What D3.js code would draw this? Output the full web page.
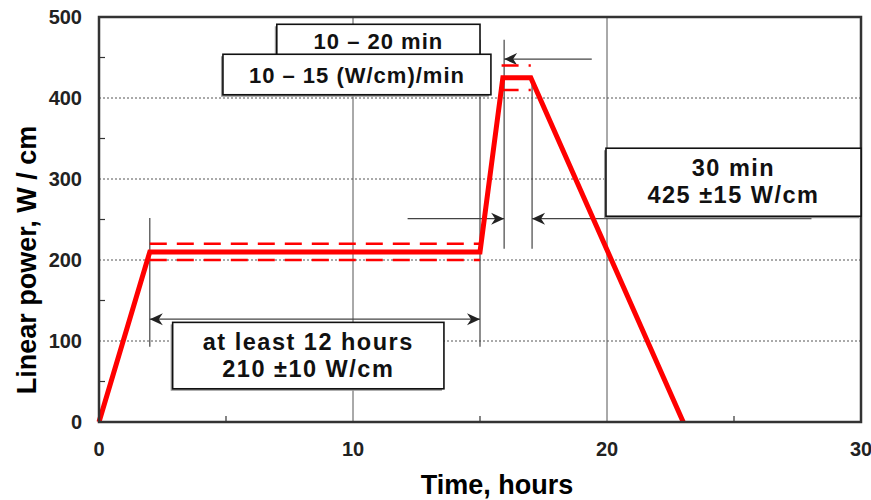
<!DOCTYPE html>
<html><head><meta charset="utf-8">
<script src="https://cdn.jsdelivr.net/npm/d3@7"></script>
<style>
html,body{margin:0;padding:0;background:#fff;}
svg{display:block;font-family:"Liberation Sans",Arial,sans-serif;font-weight:bold;}
</style></head>
<body>
<script>
// ---- data ----
const timeHours = [0, 2, 15, 15.9, 17, 23];
const powerWcm  = [0, 210, 210, 425, 425, 0];
const band1Time = [2, 15];
const band1Power = [200, 220];          // 210 ±10
const band2Time = [15.85, 17];
const band2Power = [410, 440];          // 425 ±15
const xTicks = [0, 10, 20, 30];
const xMinorTicks = [5, 15, 25];
const yTicks = [0, 100, 200, 300, 400, 500];
const yMinorTicks = [50, 150, 250, 350, 450];
const xGrid = [10, 20];
const yGrid = [100, 200, 300, 400];
const labelTime = "Time, hours";
const labelPower = "Linear power, W / cm";
// annotation guide lines: [time, fromPower, toPower]
const guideLines = [[2, 93, 252], [15, 93, 472], [15.95, 214, 472], [17.05, 214, 426]];
// arrows: [fromTime, toTime, power, headAtStart, headAtEnd]
const arrowsDef = [[19.4, 15.95, 448, false, true], [12.15, 15.95, 251, false, true], [28.05, 17.05, 251, false, true], [2, 15, 127, true, true]];
// boxes: [t0, t1, pTop, pBottom, lines]
const boxes = [
  [7.0, 15.0, 491, 450, ["10 \u2013 20 min"]],
  [4.88, 15.43, 454, 404, ["10 \u2013 15 (W/cm)/min"]],
  [19.96, 30.0, 338, 254, ["30 min", "425 \u00b115 W/cm"]],
  [2.9, 13.58, 123, 41, ["at least 12 hours", "210 \u00b110 W/cm"]]
];

const W = 871, H = 500;
const svg = d3.select("body").append("svg").attr("width", W).attr("height", H);
const x = d3.scaleLinear().domain([0, 30]).range([99, 861]);
const y = d3.scaleLinear().domain([0, 500]).range([422, 17]);

// grid
svg.append("g").selectAll("line").data(yGrid).join("line")
  .attr("x1", x(0)).attr("x2", x(30)).attr("y1", d => y(d)).attr("y2", d => y(d))
  .attr("stroke", "#555").attr("stroke-width", 1).attr("stroke-dasharray", "2,2");
svg.append("g").selectAll("line").data(xGrid).join("line")
  .attr("x1", d => x(d)).attr("x2", d => x(d)).attr("y1", y(0)).attr("y2", y(500))
  .attr("stroke", "#555").attr("stroke-width", 1);

// minor ticks
svg.append("g").selectAll("line").data(yMinorTicks).join("line")
  .attr("x1", x(0)).attr("x2", x(0) + 6).attr("y1", d => y(d)).attr("y2", d => y(d))
  .attr("stroke", "#333").attr("stroke-width", 1.2);
svg.append("g").selectAll("line").data(xMinorTicks).join("line")
  .attr("x1", d => x(d)).attr("x2", d => x(d)).attr("y1", y(0)).attr("y2", y(0) - 6)
  .attr("stroke", "#333").attr("stroke-width", 1.2);

// guide lines
svg.append("g").selectAll("line").data(guideLines).join("line")
  .attr("x1", d => x(d[0])).attr("x2", d => x(d[0])).attr("y1", d => y(d[1])).attr("y2", d => y(d[2]))
  .attr("stroke", "#444").attr("stroke-width", 1.2);

// arrows
function head(px, py, dir) {
  const L = 13, hw = 6, n = 4;
  return `M${px},${py}L${px - dir * L},${py - hw}L${px - dir * (L - n)},${py}L${px - dir * L},${py + hw}Z`;
}
const ag = svg.append("g");
arrowsDef.forEach(a => {
  const x0 = x(a[0]), x1 = x(a[1]), py = y(a[2]);
  ag.append("line").attr("x1", x0).attr("x2", x1).attr("y1", py).attr("y2", py)
    .attr("stroke", "#444").attr("stroke-width", 1.2);
  const dir = x1 > x0 ? 1 : -1;
  if (a[4]) ag.append("path").attr("d", head(x1, py, dir)).attr("fill", "#222");
  if (a[3]) ag.append("path").attr("d", head(x0, py, -dir)).attr("fill", "#222");
});

// tolerance bands
const bg = svg.append("g");
[[band1Time, band1Power], [band2Time, band2Power]].forEach(([t, p]) => {
  p.forEach(v => {
    bg.append("line").attr("x1", x(t[0])).attr("x2", x(t[1])).attr("y1", y(v)).attr("y2", y(v))
      .attr("stroke", "#ff0000").attr("stroke-width", 2.5).attr("stroke-dasharray", "17,10");
  });
});

// profile line
const line = d3.line().x(d => x(d[0])).y(d => y(d[1]));
svg.append("path").datum(timeHours.map((t, i) => [t, powerWcm[i]]))
  .attr("d", line).attr("fill", "none").attr("stroke", "#ff0000")
  .attr("stroke-width", 5).attr("stroke-linejoin", "miter");

// frame
svg.append("rect").attr("x", x(0)).attr("y", y(500)).attr("width", x(30) - x(0)).attr("height", y(0) - y(500))
  .attr("fill", "none").attr("stroke", "#333").attr("stroke-width", 2.5);

// boxes
boxes.forEach(b => {
  const bx = x(b[0]), bw = x(b[1]) - x(b[0]), by = y(b[2]), bh = y(b[3]) - y(b[2]);
  const g = svg.append("g");
  g.append("rect").attr("x", bx - 2).attr("y", by + 2).attr("width", bw).attr("height", bh)
    .attr("fill", "#999");
  g.append("rect").attr("x", bx).attr("y", by).attr("width", bw).attr("height", bh)
    .attr("fill", "#fff").attr("stroke", "#111").attr("stroke-width", 1.6);
  const cx = bx + bw / 2;
  if (b[4].length === 1) {
    g.append("text").attr("x", cx).attr("y", by + bh / 2 + 8).attr("text-anchor", "middle")
      .attr("font-size", 22).attr("letter-spacing", 1).attr("fill", "#111").text(b[4][0]);
  } else {
    b[4].forEach((s, i) => {
      g.append("text").attr("x", cx).attr("y", by + bh / 2 - 6 + i * 27).attr("text-anchor", "middle")
        .attr("font-size", 23.5).attr("letter-spacing", 1.5).attr("fill", "#111").text(s);
    });
  }
});

// tick labels
svg.append("g").selectAll("text").data(yTicks).join("text")
  .attr("x", 82).attr("y", d => y(d)).attr("dy", "0.35em").attr("text-anchor", "end")
  .attr("font-size", 20).attr("fill", "#222").text(d => d);
svg.append("g").selectAll("text").data(xTicks).join("text")
  .attr("x", d => x(d)).attr("y", 456).attr("text-anchor", "middle")
  .attr("font-size", 20).attr("fill", "#222").text(d => d);

// axis titles
svg.append("text").attr("x", 497).attr("y", 494).attr("text-anchor", "middle")
  .attr("font-size", 27).attr("fill", "#000").text(labelTime);
svg.append("text").attr("transform", "translate(36,260) rotate(-90)").attr("text-anchor", "middle")
  .attr("font-size", 27).attr("fill", "#000").text(labelPower);
</script>
</body></html>
